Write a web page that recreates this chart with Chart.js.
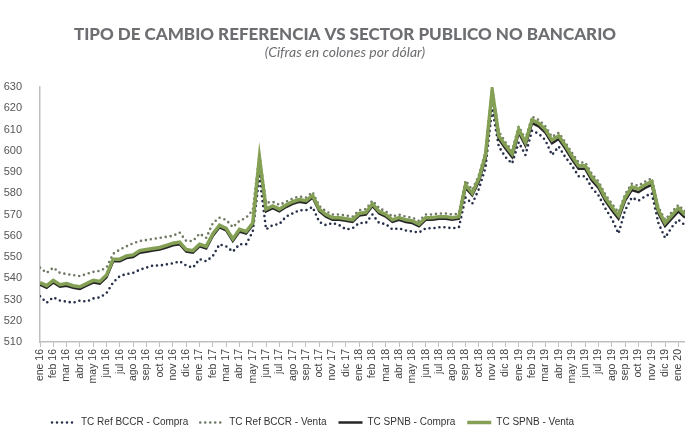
<!DOCTYPE html>
<html>
<head>
<meta charset="utf-8">
<script src="https://cdn.jsdelivr.net/npm/chart.js@4.4.1/dist/chart.umd.min.js"></script>
<style>
  html, body { margin: 0; padding: 0; background: #fff; }
  #wrap { width: 693px; height: 444px; }
</style>
</head>
<body>
<div id="wrap"><canvas id="tcChart" width="693" height="444"></canvas></div>
<script>
// month labels on the x axis (one per month)
const monthLabels = [
  "ene 16", "feb 16", "mar 16", "abr 16", "may 16", "jun 16", "jul 16", "ago 16", "sep 16", "oct 16", "nov 16", "dic 16",
  "ene 17", "feb 17", "mar 17", "abr 17", "may 17", "jun 17", "jul 17", "ago 17", "sep 17", "oct 17", "nov 17", "dic 17",
  "ene 18", "feb 18", "mar 18", "abr 18", "may 18", "jun 18", "jul 18", "ago 18", "sep 18", "oct 18", "nov 18", "dic 18",
  "ene 19", "feb 19", "mar 19", "abr 19", "may 19", "jun 19", "jul 19", "ago 19", "sep 19", "oct 19", "nov 19", "dic 19",
  "ene 20"
];

// series, read twice a month (ene 16 ... mid ene 20)
const refCompra = [
  531.5, 528.5, 531, 529.5, 529, 528.5, 529.5, 529, 530.5, 531,
  533, 538, 541, 542, 542.5, 544, 545, 546, 546, 546.5,
  547, 548, 546, 545, 549, 548, 550.5, 556, 555, 552.5,
  556, 556, 562, 588, 563, 565, 565.5, 569, 570.5, 572,
  572, 573.5, 566.5, 565, 566, 565, 563, 563.5, 566, 566,
  570, 566, 565.5, 563, 563.5, 562.5, 562, 561.5, 563.5, 563.5,
  564, 564, 563.5, 564, 578, 575, 582, 592, 620, 602,
  597, 594, 604, 598, 609.5, 608, 605, 598, 602, 597,
  593, 588, 588, 582.5, 579, 573, 568, 561, 572, 578,
  576.5, 578.5, 580, 566, 559, 564, 567.5, 565
];
const refVenta = [
  545, 542.5, 545, 542.5, 542, 541.5, 541, 542, 543, 543.5,
  545, 551.5, 553.5, 555, 556.5, 557.5, 558, 558.5, 559, 559.5,
  560, 561.5, 557.5, 557.5, 561, 559, 566, 568.5, 567.5, 564,
  567, 568.5, 572, 598, 575.5, 576, 574.5, 576, 577.5, 578.5,
  578, 580.5, 574, 571.5, 570, 570, 569.5, 569, 572, 572.5,
  576.5, 573, 571.5, 569, 570, 569, 568.5, 567, 570, 570,
  570.5, 570.5, 570, 570.5, 586, 581.5, 588.5, 599.5, 629.5, 609,
  604, 600, 611.5, 605.5, 616, 614.5, 611.5, 606.5, 608.5, 604,
  599, 594.5, 594.5, 589, 585.5, 579.5, 575, 571, 579.5, 584.5,
  583.5, 585.5, 587, 573.5, 567.5, 571, 574.5, 571.5
];
const spnbCompra = [
  537, 535.5, 538, 536, 536.5, 535.5, 535, 536.5, 538, 537.5,
  540.5, 548, 548, 549.5, 550, 552, 552.5, 553, 553.5, 554.5,
  555.5, 556, 552.5, 552, 555, 554, 560, 564, 562.5, 557.5,
  562, 561, 565, 595, 571.5, 573, 571.5, 573.5, 575, 576,
  575.5, 578, 571.5, 569, 567.5, 567.5, 567, 566.5, 569.5, 570,
  574, 570.5, 569, 566.5, 567.5, 566.5, 566, 564.5, 567.5, 567.5,
  568, 568, 567.5, 568, 582.5, 579, 585.5, 596.5, 626.5, 605.5,
  601, 597, 608.5, 602.5, 613, 611.5, 608.5, 603.5, 605.5, 601,
  596, 591.5, 591.5, 586, 582.5, 576.5, 572, 568, 576.5, 581.5,
  580.5, 582.5, 584, 570.5, 564.5, 568, 571.5, 568.5
];
const spnbVenta = [
  538, 536.5, 539, 537, 537.5, 536.5, 536, 537.5, 539, 538.5,
  541.5, 549, 549, 550.5, 551, 553, 553.5, 554, 554.5, 555.5,
  556.5, 557, 553.5, 553, 556, 555, 561, 565, 563.5, 558.5,
  563, 562, 566, 597, 572.5, 574, 572.5, 574.5, 576, 577,
  576.5, 579, 572.5, 570, 568.5, 568.5, 568, 567.5, 570.5, 571,
  575, 571.5, 570, 567.5, 568.5, 567.5, 567, 565.5, 568.5, 568.5,
  569, 569, 568.5, 569, 584, 580, 587, 598, 628.5, 607,
  602.5, 598.5, 610, 604, 614.5, 613, 610, 605, 607, 602.5,
  597.5, 593, 593, 587.5, 584, 578, 573.5, 569.5, 578, 583,
  582, 584, 585.5, 572, 566, 569.5, 573, 570
];

// y axis ticks
const yTicks = [510, 520, 530, 540, 550, 560, 570, 580, 590, 600, 610, 620, 630];

// two readings per month -> x position in months
function toPoints(values) {
  return values.map((v, i) => ({ x: i / 2, y: v }));
}

Chart.defaults.font.family = "'Liberation Sans Narrow', 'Liberation Sans', sans-serif";

// legend samples: use the dataset's own line style (dash, width, cap)
function legendLabels(chart) {
  const items = Chart.defaults.plugins.legend.labels.generateLabels(chart);
  items.forEach((item) => {
    const ds = chart.data.datasets[item.datasetIndex];
    item.lineDash = ds.borderDash || [];
    item.lineWidth = ds.borderWidth;
    item.lineCap = ds.borderCapStyle || "butt";
    item.strokeStyle = ds.borderColor;
    item.pointStyle = "line";
  });
  return items;
}

const ctx = document.getElementById("tcChart").getContext("2d");
const tcChart = new Chart(ctx, {
  type: "line",
  data: {
    datasets: [
      {
        label: "TC Ref BCCR - Compra",
        data: toPoints(refCompra),
        borderColor: "#27304a",
        borderWidth: 2.6,
        borderDash: [0, 5],
        borderCapStyle: "round",
        order: 3,
      },
      {
        label: "TC Ref BCCR - Venta",
        data: toPoints(refVenta),
        borderColor: "#6f7a63",
        borderWidth: 2.6,
        borderDash: [0, 5],
        borderCapStyle: "round",
        order: 2,
      },
      {
        label: "TC SPNB - Compra",
        data: toPoints(spnbCompra),
        borderColor: "#262626",
        borderWidth: 2.5,
        order: 1,
      },
      {
        label: "TC SPNB - Venta",
        data: toPoints(spnbVenta),
        borderColor: "#84a054",
        borderWidth: 3.5,
        order: 0,
      },
    ],
  },
  options: {
    responsive: false,
    animation: false,
    elements: { point: { radius: 0 }, line: { tension: 0, fill: false } },
    layout: { padding: { left: 3, right: 6, top: 0, bottom: 6.5 } },
    scales: {
      x: {
        type: "linear",
        min: 0,
        max: 48.5,
        afterBuildTicks: (axis) => {
          axis.ticks = monthLabels.map((l, i) => ({ value: i }));
        },
        afterFit: (axis) => { axis.height = 63.5; },
        grid: { display: true, drawOnChartArea: false, drawTicks: true, tickLength: 5, color: "#bfbfbf" },
        border: { display: true, color: "#bfbfbf", width: 1.5 },
        ticks: {
          autoSkip: false,
          minRotation: 90,
          maxRotation: 90,
          padding: 2,
          color: "#404040",
          font: { size: 10.5 },
          callback: (v) => monthLabels[v],
        },
      },
      y: {
        min: 510,
        max: 630,
        afterBuildTicks: (axis) => {
          axis.ticks = yTicks.map((v) => ({ value: v }));
        },
        afterFit: (axis) => { axis.width = 37; },
        grid: { display: false, drawTicks: false },
        border: { display: true, color: "#bfbfbf", width: 1.5 },
        ticks: { padding: 18, color: "#555", font: { size: 11 } },
      },
    },
    plugins: {
      title: {
        display: true,
        text: "TIPO DE CAMBIO REFERENCIA VS SECTOR PUBLICO NO BANCARIO",
        color: "#6d6e71",
        font: { family: "Lato", size: 17, weight: "900", lineHeight: 1.2 },
        padding: { top: 24, bottom: 0 },
      },
      subtitle: {
        display: true,
        text: "(Cifras en colones por dólar)",
        color: "#6d6e71",
        font: { family: "Lato", size: 14, style: "italic", lineHeight: 1.2 },
        padding: { top: 0, bottom: 25.8 },
      },
      legend: {
        position: "bottom",
        align: "start",
        fullSize: false,
        labels: {
          usePointStyle: true,
          pointStyle: "line",
          pointStyleWidth: 24,
          padding: 12,
          color: "#333",
          font: { size: 10 },
          generateLabels: legendLabels,
          sort: (a, b) => a.datasetIndex - b.datasetIndex,
        },
      },
      tooltip: { enabled: false },
    },
  },
});
</script>
</body>
</html>
